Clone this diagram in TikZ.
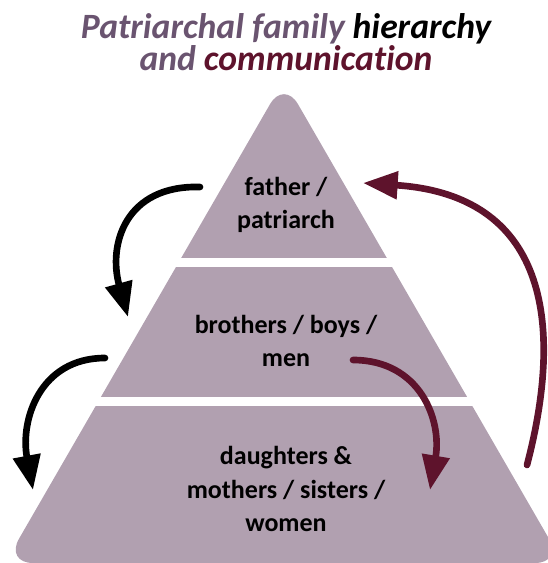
\documentclass[tikz,border=0pt]{standalone}
\usepackage{fontspec}
\setmainfont{Carlito}[Ligatures=NoCommon]
\usetikzlibrary{arrows.meta}
\definecolor{tiermauve}{HTML}{B1A0B0}
\definecolor{titlepurple}{HTML}{6A5470}
\definecolor{wine}{HTML}{5E132C}
\begin{document}
\begin{tikzpicture}
            [x=0.75pt,y=-0.75pt,
             tier/.style={align=center,font=\bfseries\fontsize{19.5}{25}\selectfont},
             blackarrow/.style={line width=5pt,line cap=round,-{Triangle[length=26pt,width=20pt]}},
             winearrow/.style={blackarrow,draw=wine}]
            \useasboundingbox (0,0) rectangle (547,563);
            % the pyramid, cut into three tiers
            \fill[tiermauve,rounded corners=21pt] (284,80) -- (563,563) -- (5,563) -- cycle;
            \fill[white] (0,257.5) rectangle (547,266.5);
            \fill[white] (0,397) rectangle (547,405.5);
            % title
            \node[align=center,font=\bfseries\itshape\fontsize{26.7}{24}\selectfont] (title) at (286,42)
                {\textcolor{titlepurple}{Patriarchal family} hierarchy\\
                 \textcolor{titlepurple}{and} \textcolor{wine}{communication}};
            \node[tier] (father) at (286,205) {father /\\patriarch};
            \node[tier] (brothers) at (286,341) {brothers / boys /\\men};
            \node[tier] (women) at (286,489) {daughters \&\\mothers / sisters /\\women};
            % arrow ends
            \coordinate (fatherout) at (200,187);
            \coordinate (brothersin) at (128,317);
            \coordinate (brothersout) at (105,358);
            \coordinate (womenin) at (33,490);
            \coordinate (brothersdown) at (353,360);
            \coordinate (womendown) at (430,490);
            \coordinate (womenup) at (527,465);
            \coordinate (fatherin) at (363,183);
            % the arrows
            \draw[blackarrow] (fatherout) .. controls (125,185) and (108,245) .. (brothersin);
            \draw[blackarrow] (brothersout) .. controls (40,358) and (20,420) .. (womenin);
            \draw[winearrow] (brothersdown) .. controls (420,360) and (442,420) .. (womendown);
            \draw[winearrow] (womenup) .. controls (565,320) and (545,195) .. (fatherin);
        \end{tikzpicture}
\end{document}
